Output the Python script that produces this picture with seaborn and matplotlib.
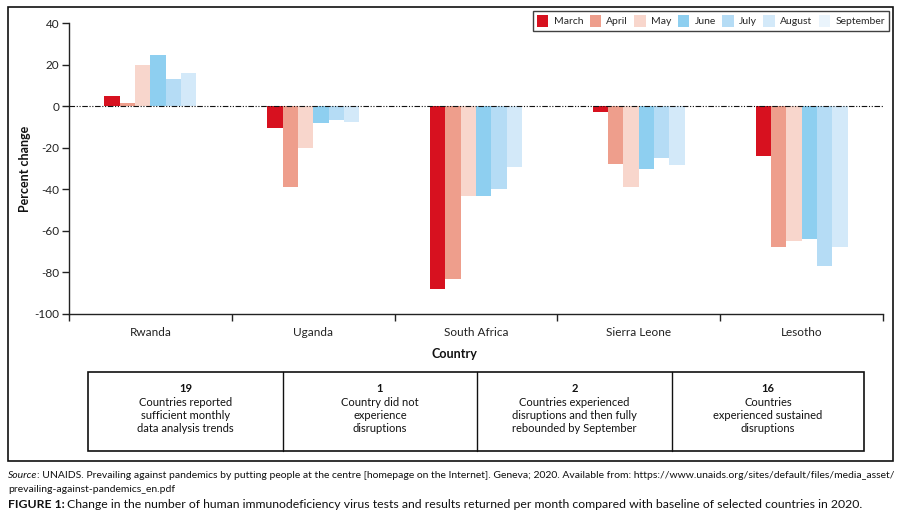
import matplotlib
matplotlib.use("Agg")
import matplotlib.pyplot as plt
import matplotlib.patches as mpatches
from matplotlib.lines import Line2D
import seaborn as sns
import pandas as pd
import numpy as np

countries = ["Rwanda", "Uganda", "South Africa", "Sierra Leone", "Lesotho"]
months = ["March", "April", "May", "June", "July", "August", "September"]
march = [4.8, -10.4, -88, -2.7, -23.9]
april = [1.4, -38.8, -83, -27.7, -68]
may = [19.7, -20, -43, -38.8, -64.7]
june = [24.5, -8, -43, -30, -63.8]
july = [13, -6.6, -39.7, -24.8, -76.8]
august = [15.9, -7.5, -29.2, -28.2, -68]
september = [np.nan, np.nan, np.nan, np.nan, np.nan]  # not visible in reference
colors = ["#d7111f", "#ee9e8c", "#f8d6cc", "#8ecff0", "#b5dcf5", "#d3e9f9", "#eaf4fc"]

yticks = [40, 20, 0, -20, -40, -60, -80, -100]

table_numbers = ["19", "1", "2", "16"]
table_texts = [
    "Countries reported\nsufficient monthly\ndata analysis trends",
    "Country did not\nexperience\ndisruptions",
    "Countries experienced\ndisruptions and then fully\nrebounded by September",
    "Countries\nexperienced sustained\ndisruptions",
]

series = [march, april, may, june, july, august, september]
rows = []
for m, vals in zip(months, series):
    for c, v in zip(countries, vals):
        rows.append({"Country": c, "Month": m, "Value": v})
df = pd.DataFrame(rows)
plot_months = [m for m, s in zip(months, series) if not np.all(np.isnan(s))]
df_plot = df[df["Month"].isin(plot_months)]

sns.set_theme(style="white")
plt.rcParams["font.family"] = ["Lato", "DejaVu Sans"]

W, H = 908, 524
fig = plt.figure(figsize=(W / 100, H / 100), dpi=100)

def fx(x):
    return x / W

def fy(y):
    return 1 - y / H

ax = fig.add_axes([fx(69), fy(314), fx(883) - fx(69), fy(23) - fy(314)])
sns.barplot(data=df_plot, x="Country", y="Value", hue="Month", order=countries,
            hue_order=plot_months, palette=colors[:len(plot_months)],
            width=0.565, saturation=1, ax=ax, legend=False, errorbar=None,
            linewidth=0, edgecolor="none")

ax.set_ylim(-100, 40)
ax.set_xlim(-0.5, len(countries) - 0.5)
ax.set_yticks(yticks)
ax.set_yticklabels([str(t) for t in yticks], fontsize=8.5, color="#222222")
ax.set_xticks(range(len(countries)))
ax.set_xticklabels(countries, fontsize=8.5, color="#222222")
ax.tick_params(axis="x", which="major", length=0, pad=9)
ax.set_xticks(np.arange(-0.5, len(countries), 1.0), minor=True)
ax.tick_params(axis="x", which="minor", length=5, width=1, color="#222222", direction="out", bottom=True)
ax.tick_params(axis="y", length=5, width=1, color="#222222", direction="out", left=True, pad=2)
for s in ["top", "right"]:
    ax.spines[s].set_visible(False)
for s in ["left", "bottom"]:
    ax.spines[s].set_color("#222222")
    ax.spines[s].set_linewidth(1)
ax.axhline(0, color="#111111", linewidth=0.8, dashes=(5, 1.5, 1, 1.5, 1, 1.5), zorder=3)
ax.set_xlabel("")
ax.set_ylabel("Percent change", fontsize=9, fontweight="bold", color="#111111")
ax.yaxis.set_label_coords((31 - 69) / (883 - 69), 0.5)
fig.text(fx(454), fy(354), "Country", fontsize=9, fontweight="bold", ha="center", va="center", color="#111111")

handles = [mpatches.Patch(facecolor=c, edgecolor="none", label=m) for m, c in zip(months, colors)]
leg = fig.legend(handles=handles, loc="upper right", bbox_to_anchor=(fx(889), fy(11)),
                 ncol=7, fontsize=7.5, frameon=True, fancybox=False,
                 handlelength=1.1, handleheight=1.4, handletextpad=0.5,
                 columnspacing=0.62, borderpad=0.38, borderaxespad=0)
leg.get_frame().set_edgecolor("#111111")
leg.get_frame().set_linewidth(1)

# outer box
fig.patches.append(mpatches.Rectangle((fx(8), fy(461)), fx(893) - fx(8), fy(7) - fy(461),
                                      transform=fig.transFigure, fill=False,
                                      edgecolor="#111111", linewidth=1.2))

# table
tx = [88, 283, 477, 672, 864]
ty_top, ty_bot = 372, 451
fig.patches.append(mpatches.Rectangle((fx(tx[0]), fy(ty_bot)), fx(tx[-1]) - fx(tx[0]),
                                      fy(ty_top) - fy(ty_bot), transform=fig.transFigure,
                                      fill=False, edgecolor="#111111", linewidth=1.2))
for x in tx[1:-1]:
    fig.add_artist(Line2D([fx(x), fx(x)], [fy(ty_top), fy(ty_bot)], transform=fig.transFigure,
                          color="#111111", linewidth=1))
for i, (n, t) in enumerate(zip(table_numbers, table_texts)):
    cx = (tx[i] + tx[i + 1]) / 2
    fig.text(fx(cx), fy(389), n, fontsize=8, fontweight="bold", ha="center", va="center", color="#111111")
    fig.text(fx(cx), fy(397), t, fontsize=8, ha="center", va="top", color="#111111", linespacing=1.25)

# captions
fig.canvas.draw()
renderer = fig.canvas.get_renderer()
t1 = fig.text(fx(8), fy(475), "Source", fontsize=7.45, style="italic", va="center", color="#111111")
bb = t1.get_window_extent(renderer)
fig.text(bb.x1 / W, fy(475),
         ": UNAIDS. Prevailing against pandemics by putting people at the centre [homepage on the Internet]. Geneva; 2020. Available from: https://www.unaids.org/sites/default/files/media_asset/",
         fontsize=7.45, va="center", color="#111111")
fig.text(fx(8), fy(489), "prevailing-against-pandemics_en.pdf", fontsize=7.45, va="center", color="#111111")
t2 = fig.text(fx(8), fy(505), "FIGURE 1:", fontsize=8.8, fontweight="bold", va="center", color="#111111")
bb2 = t2.get_window_extent(renderer)
fig.text(bb2.x1 / W + 0.003, fy(505),
         "Change in the number of human immunodeficiency virus tests and results returned per month compared with baseline of selected countries in 2020.",
         fontsize=8.8, va="center", color="#111111")

fig.savefig("out.png", dpi=100)
